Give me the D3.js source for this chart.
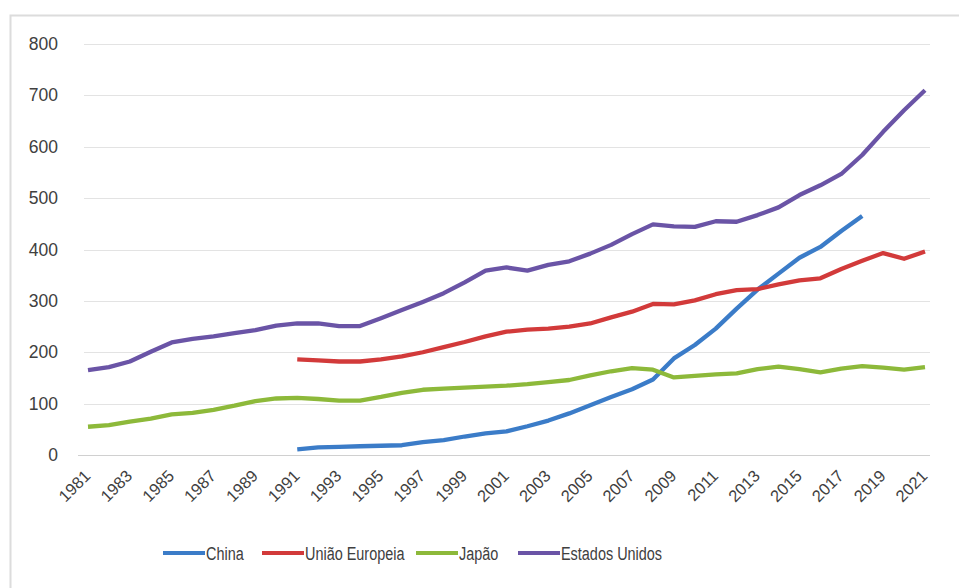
<!DOCTYPE html>
<html>
<head>
<meta charset="utf-8">
<script src="https://cdn.jsdelivr.net/npm/d3@7"></script>
<style>
  body { margin: 0; background: #fff; }
  svg { display: block; }
</style>
</head>
<body>
<svg id="chart" width="959" height="588"></svg>
<script>
// Chart data

var years = d3.range(1981, 2022);
var yTicks = [0, 100, 200, 300, 400, 500, 600, 700, 800];
var xTicks = d3.range(1981, 2022, 2);

var china = [null, null, null, null, null, null, null, null, null, null,
  11, 15, 16, 17, 18, 19, 25, 29, 36, 42,
  46, 56, 67, 81, 97, 113, 128, 147, 188, 214,
  246, 285, 322, 353, 384, 405, 436, 465];

var uniaoEuropeia = [null, null, null, null, null, null, null, null, null, null,
  186, 184, 182, 182, 186, 192, 200, 210, 220, 231,
  240, 244, 246, 250, 256, 268, 279, 294, 293, 301,
  313, 321, 323, 332, 340, 344, 362, 378, 393, 382, 396];

var japao = [55, 58, 65, 71, 79, 82, 88, 96, 105, 110,
  111, 109, 106, 106, 113, 121, 127, 129, 131, 133,
  135, 138, 142, 146, 155, 163, 169, 166, 151, 154,
  157, 159, 167, 172, 167, 161, 168, 173, 170, 166, 171];

var estadosUnidos = [165, 171, 182, 201, 219, 226, 231, 237, 243, 252,
  256, 256, 251, 251, 266, 282, 298, 315, 336, 359,
  365, 359, 370, 377, 392, 409, 430, 449, 445, 444,
  455, 454, 467, 482, 506, 525, 547, 584, 629, 671, 710];

var seriesNames = ["China", "União Europeia", "Japão", "Estados Unidos"];
var seriesColors = ["#3b7cc8", "#d23a3a", "#8db93a", "#6a54a6"];
var seriesValues = [china, uniaoEuropeia, japao, estadosUnidos];

///////////////////////////////////////////////////////////////////////////////
// Layout

var svg = d3.select("#chart");

// light frame around the chart (open to the right, like the picture)
svg.append("rect")
  .attr("x", 10.5).attr("y", 15.5)
  .attr("width", 990).attr("height", 620)
  .attr("fill", "none")
  .attr("stroke", "#dcdcdc")
  .attr("stroke-width", 2);

var x = d3.scaleLinear().domain([1981, 2021]).range([88, 925]);
var y = d3.scaleLinear().domain([0, 800]).range([455, 44]);

// Gridlines
svg.append("g")
  .attr("class", "grid")
  .selectAll("line")
  .data(yTicks)
  .enter().append("line")
  .attr("x1", function (d) { return d === 0 ? 78 : 84; })
  .attr("x2", 930)
  .attr("y1", function (d) { return Math.round(y(d)) + 0.5; })
  .attr("y2", function (d) { return Math.round(y(d)) + 0.5; })
  .attr("stroke", function (d) { return d === 0 ? "#d0d0d0" : "#e3e3e3"; })
  .attr("stroke-width", 1.2);

// Y axis labels
var yAxis = d3.axisLeft(y).tickValues(yTicks).tickSize(0).tickPadding(0);
var gy = svg.append("g")
  .attr("transform", "translate(58,0)")
  .call(yAxis);
gy.select(".domain").remove();
gy.selectAll("text")
  .attr("fill", "#404040")
  .style("font-family", "'Liberation Sans', Arial, sans-serif")
  .style("font-size", "17.5px");

// X axis labels, rotated
var xAxis = d3.axisBottom(x).tickValues(xTicks).tickSize(0).tickPadding(0)
  .tickFormat(d3.format("d"));
var gx = svg.append("g")
  .attr("transform", "translate(0,455)")
  .call(xAxis);
gx.select(".domain").remove();
gx.selectAll("text")
  .attr("fill", "#404040")
  .style("font-family", "'Liberation Sans', Arial, sans-serif")
  .style("font-size", "16.5px")
  .style("text-anchor", "end")
  .attr("y", 0)
  .attr("dy", "0")
  .attr("transform", "translate(3,22) rotate(-45)");

///////////////////////////////////////////////////////////////////////////////
// Lines

var line = d3.line()
  .defined(function (d) { return d != null; })
  .x(function (d, i) { return x(years[i]); })
  .y(function (d) { return y(d); });

svg.append("g")
  .attr("class", "lines")
  .selectAll("path")
  .data(seriesValues)
  .enter().append("path")
  .attr("d", line)
  .attr("fill", "none")
  .attr("stroke", function (d, i) { return seriesColors[i]; })
  .attr("stroke-width", 4.3)
  .attr("stroke-linejoin", "round")
  .attr("stroke-linecap", "butt");

///////////////////////////////////////////////////////////////////////////////
// Legend

var legendX = [163, 262, 416, 518];
var legend = svg.append("g")
  .attr("class", "legend")
  .selectAll("g")
  .data(seriesNames)
  .enter().append("g")
  .attr("transform", function (d, i) { return "translate(" + legendX[i] + ",553)"; });

legend.append("line")
  .attr("x1", 0).attr("x2", 42)
  .attr("y1", 0).attr("y2", 0)
  .attr("stroke", function (d, i) { return seriesColors[i]; })
  .attr("stroke-width", 4);

// narrow face is not installed, so squeeze the regular one
legend.append("text")
  .attr("transform", "translate(43,6.5) scale(0.76,1)")
  .attr("fill", "#404040")
  .style("font-family", "'Liberation Sans', Arial, sans-serif")
  .style("font-size", "19px")
  .text(function (d) { return d; });
</script>
</body>
</html>
